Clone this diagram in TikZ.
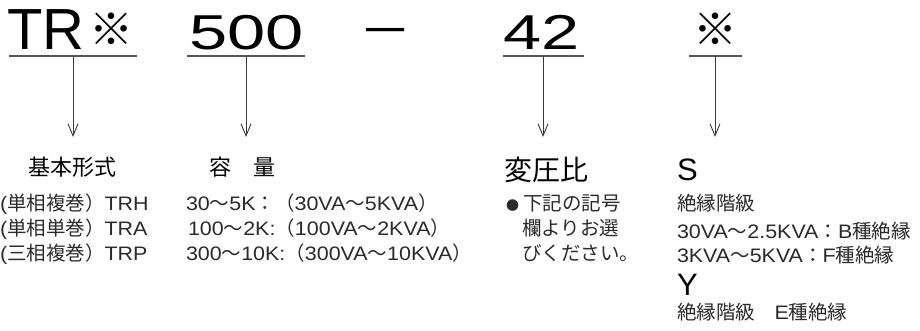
\documentclass[tikz,border=0pt]{standalone}
\usepackage{graphicx}
\usepackage{fontspec}
\setmainfont{Liberation Sans}[FakeStretch=1.1]
\newfontfamily\plain{Liberation Sans}
\newfontfamily\jp{Noto Sans CJK JP}
\usetikzlibrary{arrows.meta}
\definecolor{txt}{HTML}{2A2A2A}
\definecolor{rulec}{HTML}{555555}
\definecolor{arrc}{HTML}{3A3A3A}
\tikzset{
  base/.style={inner sep=0pt, outer sep=0pt},
  code/.style={base, font=\plain\fontsize{49}{49}\selectfont, anchor=base},
  kome/.style={base, font=\jp\fontsize{44}{44}\selectfont},
  head/.style={base, font=\jp\fontsize{22}{22}\selectfont, text=black},
  body/.style={base, font=\fontsize{19.5}{19.5}\selectfont, text=txt, anchor=base west},
  big/.style={base, font=\plain\fontsize{31}{31}\selectfont, text=black, anchor=base west},
  uline/.style={draw=rulec, line width=1.4pt},
  arr/.style={draw=arrc, line width=0.9pt, -{Straight Barb[length=12pt,width=10pt,line width=0.9pt]}}
}
\begin{document}
\begin{tikzpicture}[x=1pt,y=-1pt]
\useasboundingbox (0,0) rectangle (920,331);
% code line
\node[code, anchor=base west, font=\plain\fontsize{58}{58}\selectfont] (tr) at (7,50) {TR};
\node[kome] (k1) at (111.5,29) {※};
\node[code] (n500) at (246.5,50) {\scalebox{1.4}[1]{500}};
\node[code] (dash) at (385.5,43) {\scalebox{1.4}[1]{–}};
\node[code] (n42) at (542,50) {\scalebox{1.4}[1]{42}};
\node[kome] (k2) at (715.5,29) {※};
% underlines
\draw[uline] (9,56) coordinate (u1a) -- (137,56) coordinate (u1b);
\draw[uline] (187,56) coordinate (u2a) -- (305,56) coordinate (u2b);
\draw[uline] (503,56) coordinate (u3a) -- (584,56) coordinate (u3b);
\draw[uline] (689,56) coordinate (u4a) -- (742,56) coordinate (u4b);
% arrows
\coordinate (s1) at (73,56);  \coordinate (e1) at (73,137);
\coordinate (s2) at (246,56); \coordinate (e2) at (246,137);
\coordinate (s3) at (543,56); \coordinate (e3) at (543,137);
\coordinate (s4) at (715,56); \coordinate (e4) at (715,137);
\draw[arr] (s1) -- (e1);
\draw[arr] (s2) -- (e2);
\draw[arr] (s3) -- (e3);
\draw[arr] (s4) -- (e4);
% headings
\node[head] (h1) at (72.5,167) {基本形式};
\node[head] (h2) at (242.5,167) {容　量};
\node[head, font=\jp\fontsize{28}{28}\selectfont] (h3) at (546,170) {変圧比};
\node[big] (hS) at (677,180) {S};
% column 1
\node[body] (c1a) at (0,210) {({\jp 単相複巻）}TRH};
\node[body] (c1b) at (0,235) {({\jp 単相単巻）}TRA};
\node[body] (c1c) at (0,260) {({\jp 三相複巻）}TRP};
% column 2
\node[body] (c2a) at (186,210) {30{\jp ～}5K{\jp ：（}30VA{\jp ～}5KVA{\jp ）}};
\node[body] (c2b) at (188,235) {100{\jp ～}2K:{\jp （}100VA{\jp ～}2KVA{\jp ）}};
\node[body] (c2c) at (186,260) {300{\jp ～}10K:{\jp （}300VA{\jp ～}10KVA{\jp ）}};
% column 3
\node[body] (c3a) at (506,210) {{\jp{\fontsize{13}{13}\selectfont ●}\hspace{4pt}下記の記号}};
\node[body] (c3b) at (522,235) {{\jp 欄よりお選}};
\node[body] (c3c) at (522,260) {{\jp びください。}};
% column 4
\node[body] (c4a) at (677,210) {{\jp 絶縁階級}};
\node[body] (c4b) at (677,238) {30VA{\jp ～}2.5KVA{\jp ：}B{\jp 種絶縁}};
\node[body] (c4c) at (677,262) {3KVA{\jp ～}5KVA{\jp ：}F{\jp 種絶縁}};
\node[big] (hY) at (677,295) {Y};
\node[body] (c4d) at (677,319) {{\jp 絶縁階級　}E{\jp 種絶縁}};
\end{tikzpicture}
\end{document}
